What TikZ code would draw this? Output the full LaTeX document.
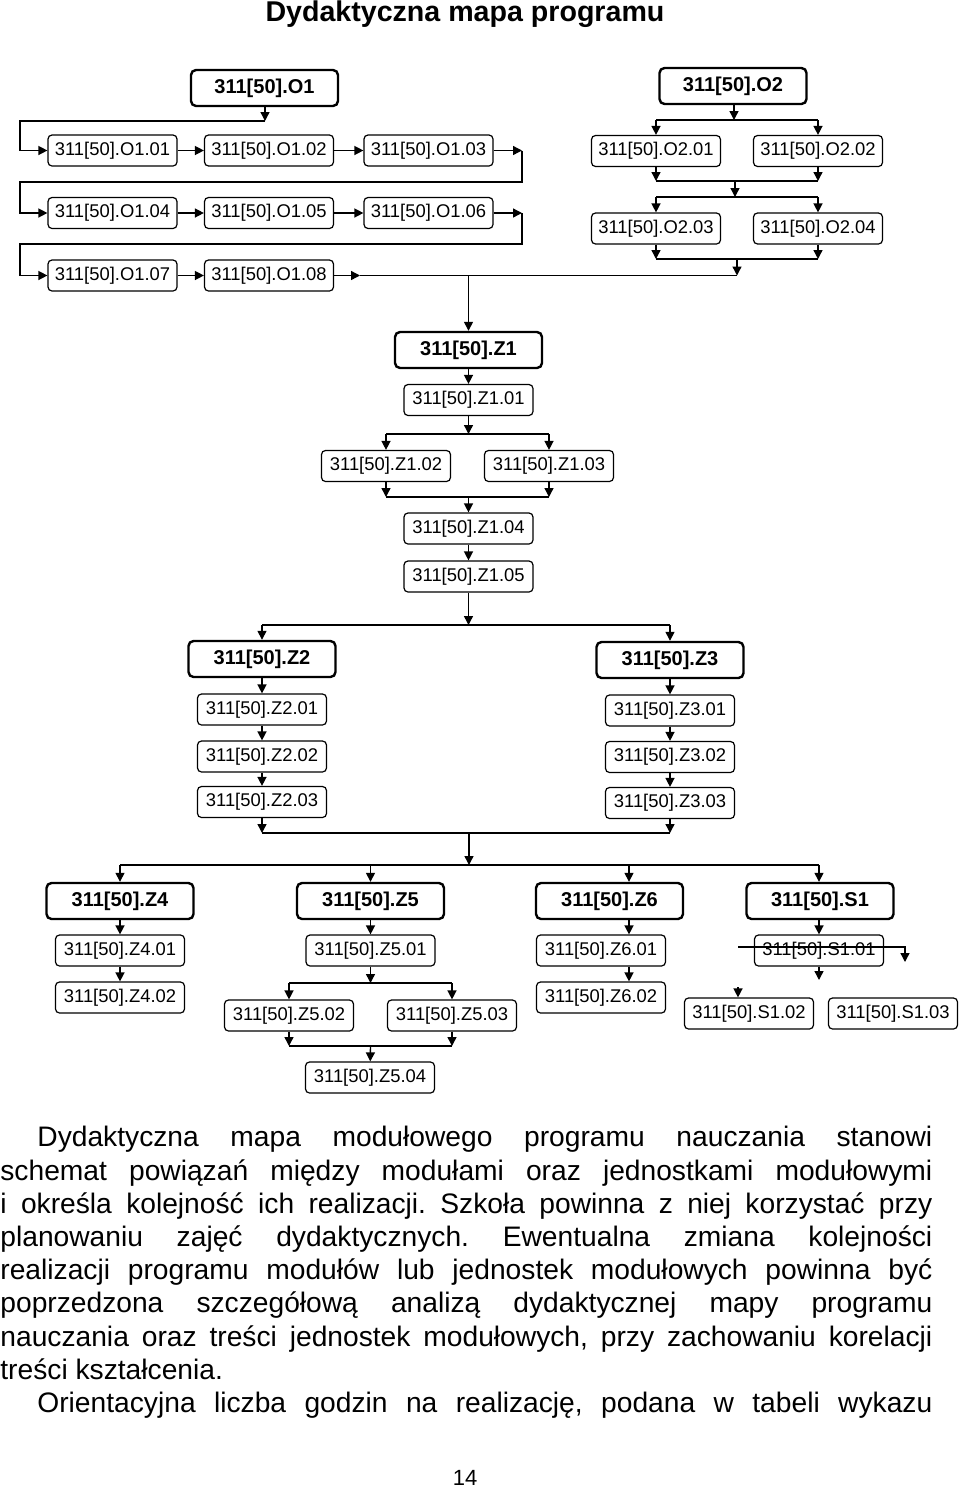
\documentclass[tikz,border=0pt]{standalone}
\usepackage{fontspec}
\setmainfont{Liberation Sans}
\usetikzlibrary{arrows.meta}
\frenchspacing

\begin{document}
\begin{tikzpicture}[
    x=0.5pt, y=-0.5pt,
    unit/.style={draw, rounded corners=2pt, line width=0.6pt, minimum width=64.5pt, minimum height=15.5pt, inner sep=0pt, font=\fontsize{9.2}{11}\selectfont},
    module/.style={draw, rounded corners=2.5pt, line width=1.2pt, minimum width=73.5pt, minimum height=18pt, inner sep=0pt, font=\fontsize{10}{12}\selectfont\bfseries},
    flow/.style={-{Triangle[length=4.5pt,width=4.5pt]}, line width=0.7pt},
    link/.style={line width=0.7pt}
    ]
\useasboundingbox (0,0) rectangle (960,1489);

\node[font=\fontsize{14.3}{17}\selectfont\bfseries] (title) at (465,14) {Dydaktyczna mapa programu};

% module O1
\node[module] (o1) at (264.5,88) {311[50].O1};
\node[unit] (o101) at (112.5,150.5) {311[50].O1.01};
\node[unit] (o102) at (269,150.5) {311[50].O1.02};
\node[unit] (o103) at (428.5,150.5) {311[50].O1.03};
\node[unit] (o104) at (112.5,213) {311[50].O1.04};
\node[unit] (o105) at (269,213) {311[50].O1.05};
\node[unit] (o106) at (428.5,213) {311[50].O1.06};
\node[unit] (o107) at (112.5,275.5) {311[50].O1.07};
\node[unit] (o108) at (269,275.5) {311[50].O1.08};

\coordinate (t1) at (265,121);
\coordinate (w1) at (20,121);
\coordinate (e1) at (522,182);
\coordinate (e2) at (522,244);
\coordinate (h1) at (360,275.5);
\coordinate (h2) at (737,275.5);

\draw[flow] (o1.south -| t1) -- (t1);
\draw[flow] (t1) -- (w1) |- (o101);
\path (o101) edge[flow] (o102) (o102) edge[flow] (o103);
\draw[flow] (o103) -- (o103 -| e1);
\draw[flow] (o103 -| e1) -- (e1) -- (e1 -| w1) |- (o104);
\path (o104) edge[flow] (o105) (o105) edge[flow] (o106);
\draw[flow] (o106) -- (o106 -| e2);
\draw[flow] (o106 -| e2) -- (e2) -- (e2 -| w1) |- (o107);
\path (o107) edge[flow] (o108);
\draw[flow] (o108) -- (h1);
\draw[link] (h1) -- (h2);

% module O2
\node[module] (o2) at (733,86) {311[50].O2};
\node[unit] (o201) at (656,151) {311[50].O2.01};
\node[unit] (o202) at (818,151) {311[50].O2.02};
\node[unit] (o203) at (656,228.5) {311[50].O2.03};
\node[unit] (o204) at (818,228.5) {311[50].O2.04};

\coordinate (b1) at (734,120);
\coordinate (b2) at (735,181);
\coordinate (b3) at (735,197);
\coordinate (b4) at (737,259);

\draw[flow] (o2.south -| b1) -- (b1);
\draw[link] (b1 -| o201) -- (b1 -| o202);
\draw[flow] (b1 -| o201) -- (o201);
\draw[flow] (b1 -| o202) -- (o202);
\draw[flow] (o201) -- (o201 |- b2);
\draw[flow] (o202) -- (o202 |- b2);
\draw[link] (b2 -| o201) -- (b2 -| o202);
\draw[flow] (b2) -- (b3);
\draw[link] (b3 -| o203) -- (b3 -| o204);
\draw[flow] (b3 -| o203) -- (o203);
\draw[flow] (b3 -| o204) -- (o204);
\draw[flow] (o203) -- (o203 |- b4);
\draw[flow] (o204) -- (o204 |- b4);
\draw[link] (b4 -| o203) -- (b4 -| o204);
\draw[flow] (b4) -- (h2);

% module Z1
\node[module] (z1) at (468.5,350) {311[50].Z1};
\node[unit] (z101) at (468.5,400) {311[50].Z1.01};
\node[unit] (z102) at (386,466) {311[50].Z1.02};
\node[unit] (z103) at (549,466) {311[50].Z1.03};
\node[unit] (z104) at (468.5,528.5) {311[50].Z1.04};
\node[unit] (z105) at (468.5,576.5) {311[50].Z1.05};

\coordinate (a1) at (468.5,434);
\coordinate (a2) at (468.5,497);
\coordinate (g1) at (468.5,625);

\draw[flow] (h1 -| z1) -- (z1);
\path (z1) edge[flow] (z101);
\draw[flow] (z101) -- (a1);
\draw[link] (a1 -| z102) -- (a1 -| z103);
\draw[flow] (a1 -| z102) -- (z102);
\draw[flow] (a1 -| z103) -- (z103);
\draw[flow] (z102) -- (z102 |- a2);
\draw[flow] (z103) -- (z103 |- a2);
\draw[link] (a2 -| z102) -- (a2 -| z103);
\draw[flow] (a2) -- (z104);
\path (z104) edge[flow] (z105);
\draw[flow] (z105) -- (g1);

% modules Z2, Z3
\node[module] (z2) at (262,659) {311[50].Z2};
\node[unit] (z201) at (262,709.5) {311[50].Z2.01};
\node[unit] (z202) at (262,756.5) {311[50].Z2.02};
\node[unit] (z203) at (262,802) {311[50].Z2.03};
\node[module] (z3) at (670,660) {311[50].Z3};
\node[unit] (z301) at (670,710.5) {311[50].Z3.01};
\node[unit] (z302) at (670,757) {311[50].Z3.02};
\node[unit] (z303) at (670,803) {311[50].Z3.03};

\coordinate (g2) at (469,833);
\coordinate (g3) at (469,865);

\draw[link] (g1 -| z2) -- (g1 -| z3);
\draw[flow] (g1 -| z2) -- (z2);
\draw[flow] (g1 -| z3) -- (z3);
\path (z2) edge[flow] (z201) (z201) edge[flow] (z202) (z202) edge[flow] (z203);
\path (z3) edge[flow] (z301) (z301) edge[flow] (z302) (z302) edge[flow] (z303);
\draw[flow] (z203) -- (z203 |- g2);
\draw[flow] (z303) -- (z303 |- g2);
\draw[link] (g2 -| z203) -- (g2 -| z303);
\draw[flow] (g2) -- (g3);

% modules Z4, Z5, Z6, S1
\node[module] (z4) at (120,901) {311[50].Z4};
\node[unit] (z401) at (120,950.5) {311[50].Z4.01};
\node[unit] (z402) at (120,997.5) {311[50].Z4.02};
\node[module] (z5) at (370.5,901) {311[50].Z5};
\node[unit] (z501) at (370.5,950.5) {311[50].Z5.01};
\node[unit] (z502) at (289,1015.5) {311[50].Z5.02};
\node[unit] (z503) at (452,1015.5) {311[50].Z5.03};
\node[unit] (z504) at (370,1077.5) {311[50].Z5.04};
\node[module] (z6) at (609.5,901) {311[50].Z6};
\node[unit] (z601) at (601,950.5) {311[50].Z6.01};
\node[unit] (z602) at (601,997.5) {311[50].Z6.02};
\node[module] (s1) at (820,901) {311[50].S1};
\node[unit] (s101) at (819,950.5) {311[50].S1.01};
\node[unit] (s102) at (749,1013.5) {311[50].S1.02};
\node[unit] (s103) at (893,1013.5) {311[50].S1.03};

\coordinate (k6) at (629,901);
\coordinate (d1) at (370.5,983);
\coordinate (d2) at (370.5,1046);

\draw[link] (g3 -| z4) -- (g3 -| s101);
\draw[flow] (g3 -| z4) -- (z4);
\draw[flow] (g3 -| z5) -- (z5);
\draw[flow] (g3 -| k6) -- (k6 |- z6.north);
\draw[flow] (g3 -| s101) -- (s101 |- s1.north);
\path (z4) edge[flow] (z401) (z401) edge[flow] (z402);
\path (z5) edge[flow] (z501);
\draw[flow] (z501) -- (d1);
\draw[link] (d1 -| z502) -- (d1 -| z503);
\draw[flow] (d1 -| z502) -- (z502);
\draw[flow] (d1 -| z503) -- (z503);
\draw[flow] (z502) -- (z502 |- d2);
\draw[flow] (z503) -- (z503 |- d2);
\draw[link] (d2 -| z502) -- (d2 -| z503);
\draw[flow] (d2) -- (z504);
\draw[flow] (k6 |- z6.south) -- (k6 |- z601.north);
\draw[flow] (k6 |- z601.south) -- (k6 |- z602.north);
\draw[flow] (s101 |- s1.south) -- (s101.north);

% stray connectors round S1.01
\coordinate (x1) at (738,947);
\coordinate (x2) at (905,947);
\coordinate (x3) at (905,962);
\coordinate (x4) at (819,980);
\coordinate (x5) at (738,987);
\draw[flow] (x1) -- (x2) -- (x3);
\draw[flow] (s101) -- (x4);
\draw[flow] (x5) -- (x5 |- s102.north);

% description
\node[anchor=north west, inner sep=0pt, text width=466pt, align=justify, font=\fontsize{14.1}{16.6}\selectfont] (note) at (0,1126) {%
\hspace*{18.5pt}Dydaktyczna mapa modułowego programu nauczania stanowi\linebreak
schemat powiązań między modułami oraz jednostkami modułowymi\linebreak
i określa kolejność ich realizacji. Szkoła powinna z niej korzystać przy\linebreak
planowaniu zajęć dydaktycznych. Ewentualna zmiana kolejności\linebreak
realizacji programu modułów lub jednostek modułowych powinna być\linebreak
poprzedzona szczegółową analizą dydaktycznej mapy programu\linebreak
nauczania oraz treści jednostek modułowych, przy zachowaniu korelacji\linebreak
treści kształcenia.\par
\hspace*{18.5pt}Orientacyjna liczba godzin na realizację, podana w tabeli wykazu\parfillskip=0pt\par};

\node[font=\fontsize{11}{13}\selectfont] (page) at (465,1478) {14};
\end{tikzpicture}
\end{document}
